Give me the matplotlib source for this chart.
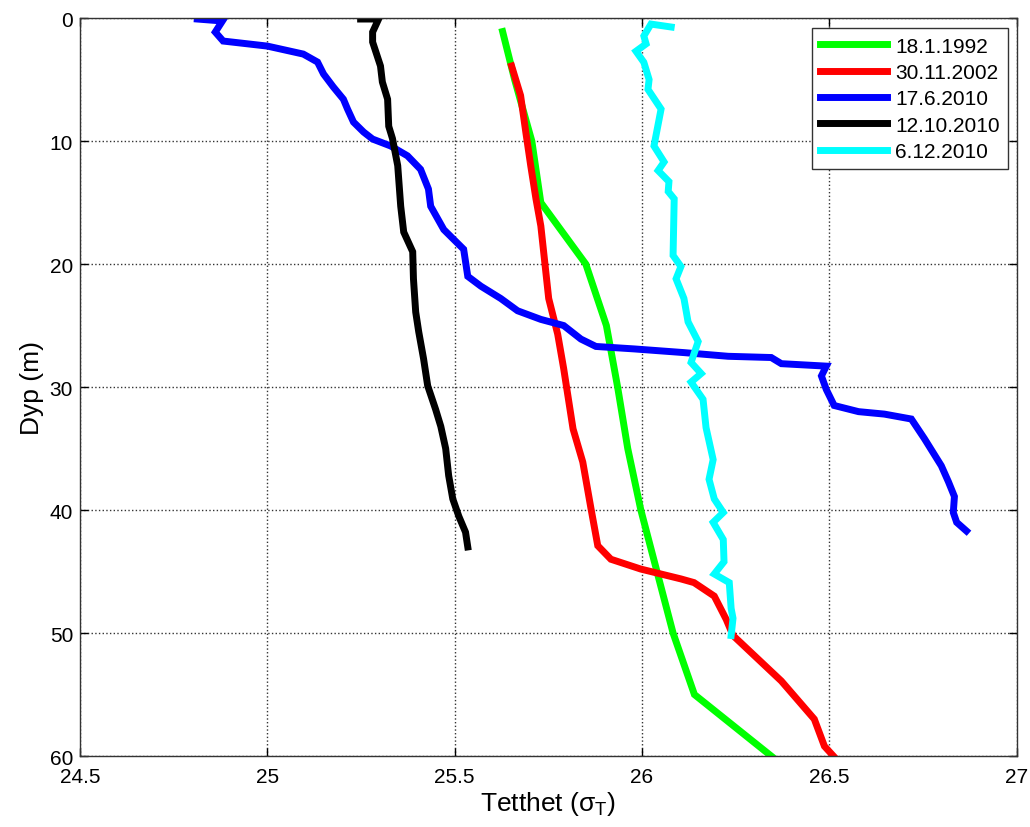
import matplotlib
matplotlib.use('Agg')
from matplotlib import pyplot as plt

# 18.1.1992 (green)
sig_1992 = [25.628, 25.66, 25.706, 25.73, 25.85, 25.905, 25.935, 25.962, 25.997, 26.04, 26.083, 26.14, 26.345]
dep_1992 = [1.1, 5.0, 10.0, 15.0, 20.0, 25.0, 30.0, 35.0, 40.0, 45.0, 50.0, 55.0, 60.0]

# 30.11.2002 (red)
sig_2002 = [25.652, 25.676, 25.690, 25.703, 25.717, 25.730, 25.751, 25.775, 25.791, 25.816, 25.842,
            25.864, 25.882, 25.917, 25.997, 26.104, 26.139, 26.193, 26.225, 26.243, 26.372, 26.460,
            26.487, 26.511]
dep_2002 = [3.9, 6.3, 9.3, 12.0, 14.7, 16.9, 22.8, 25.7, 28.5, 33.4, 36.1,
            39.9, 42.9, 44.0, 44.8, 45.6, 45.9, 47.0, 48.9, 50.2, 53.9, 57.0,
            59.2, 60.0]

# 17.6.2010 (blue)
sig_jun = [24.813, 24.880, 24.861, 24.882, 25.0, 25.096, 25.134, 25.150, 25.176, 25.203, 25.214,
           25.230, 25.257, 25.281, 25.329, 25.374, 25.409, 25.430, 25.436, 25.471, 25.524, 25.535,
           25.570, 25.623, 25.668, 25.730, 25.791, 25.837, 25.877, 25.979, 26.112, 26.230, 26.345,
           26.372, 26.492, 26.479, 26.492, 26.513, 26.578, 26.647, 26.719, 26.754, 26.799, 26.818,
           26.834, 26.831, 26.840, 26.866]
dep_jun = [0.08, 0.24, 1.14, 1.87, 2.28, 2.93, 3.58, 4.55, 5.6, 6.6, 7.4,
           8.46, 9.27, 9.84, 10.4, 11.2, 12.3, 13.9, 15.3, 17.2, 18.8, 21.0,
           21.8, 22.8, 23.8, 24.5, 25.0, 26.1, 26.7, 26.9, 27.2, 27.5, 27.6,
           28.1, 28.3, 29.1, 30.2, 31.5, 32.0, 32.2, 32.6, 34.2, 36.4, 37.7,
           38.9, 40.2, 41.0, 41.7]

# 12.10.2010 (black)
sig_oct = [25.249, 25.297, 25.281, 25.281, 25.302, 25.307, 25.321, 25.324, 25.334, 25.348, 25.356,
           25.364, 25.388, 25.390, 25.396, 25.404, 25.417, 25.428, 25.449, 25.463, 25.476, 25.484,
           25.495, 25.511, 25.529, 25.535]
dep_oct = [0.08, 0.08, 1.14, 1.95, 3.9, 5.2, 6.6, 8.8, 9.8, 12.0, 15.3,
           17.4, 19.0, 21.2, 23.9, 25.5, 27.7, 29.9, 31.8, 33.2, 35.0, 37.2,
           39.1, 40.5, 41.8, 43.0]

# 6.12.2010 (cyan)
sig_dec = [26.078, 26.024, 26.005, 26.011, 25.984, 26.005, 26.019, 26.016, 26.051, 26.032, 26.059,
           26.043, 26.072, 26.070, 26.086, 26.083, 26.104, 26.091, 26.112, 26.123, 26.150, 26.131,
           26.158, 26.131, 26.163, 26.171, 26.190, 26.179, 26.193, 26.217, 26.190, 26.217, 26.219,
           26.193, 26.233, 26.238, 26.243, 26.238]
dep_dec = [0.73, 0.49, 1.46, 2.1, 2.7, 3.6, 5.0, 5.8, 7.4, 10.4, 11.7,
           12.4, 13.3, 14.1, 14.7, 19.3, 20.2, 21.2, 22.8, 24.7, 26.3, 28.0,
           28.9, 29.6, 31.0, 33.3, 35.9, 37.5, 39.1, 40.2, 41.0, 42.4, 44.2,
           45.2, 45.9, 48.0, 48.8, 50.2]

labels = ['18.1.1992', '30.11.2002', '17.6.2010', '12.10.2010', '6.12.2010']
colors = ['#00ff00', '#ff0000', '#0000ff', '#000000', '#00ffff']

plt.rcParams['font.family'] = ['Liberation Sans', 'DejaVu Sans']

fig = plt.figure(figsize=(10.3, 8.28), dpi=100)
ax = fig.add_axes([0.0777, 0.0857, 0.9093, 0.8913])

series = [(sig_1992, dep_1992), (sig_2002, dep_2002), (sig_jun, dep_jun),
          (sig_oct, dep_oct), (sig_dec, dep_dec)]
for (x, y), lab, c in zip(series, labels, colors):
    ax.plot(x, y, color=c, lw=5, label=lab, solid_joinstyle='miter')

ax.set_xlim(24.5, 27)
ax.set_ylim(60, 0)
ax.set_xticks([24.5, 25, 25.5, 26, 26.5, 27])
ax.set_xticklabels(['24.5', '25', '25.5', '26', '26.5', '27'])
ax.set_yticks([0, 10, 20, 30, 40, 50, 60])
ax.tick_params(direction='in', top=True, right=True, labelsize=15, length=6, width=1)
ax.tick_params(axis='x', pad=8)
ax.tick_params(axis='y', pad=5)
ax.grid(True, linestyle=':', color='#333333', linewidth=1)
for s in ax.spines.values():
    s.set_color('#333333')
    s.set_linewidth(1)

ax.set_xlabel(r'Tetthet ($\mathregular{\sigma_T}$)', fontsize=19, labelpad=2)
ax.set_ylabel('Dyp (m)', fontsize=19, labelpad=4)

leg = ax.legend(loc='upper right', bbox_to_anchor=(0.991, 0.986), borderaxespad=0,
                fontsize=15, fancybox=False, edgecolor='#333333', framealpha=1,
                handlelength=3.2, handletextpad=0.4, labelspacing=0.35)
leg.get_frame().set_linewidth(1)

fig.savefig('out.png', dpi=100)
